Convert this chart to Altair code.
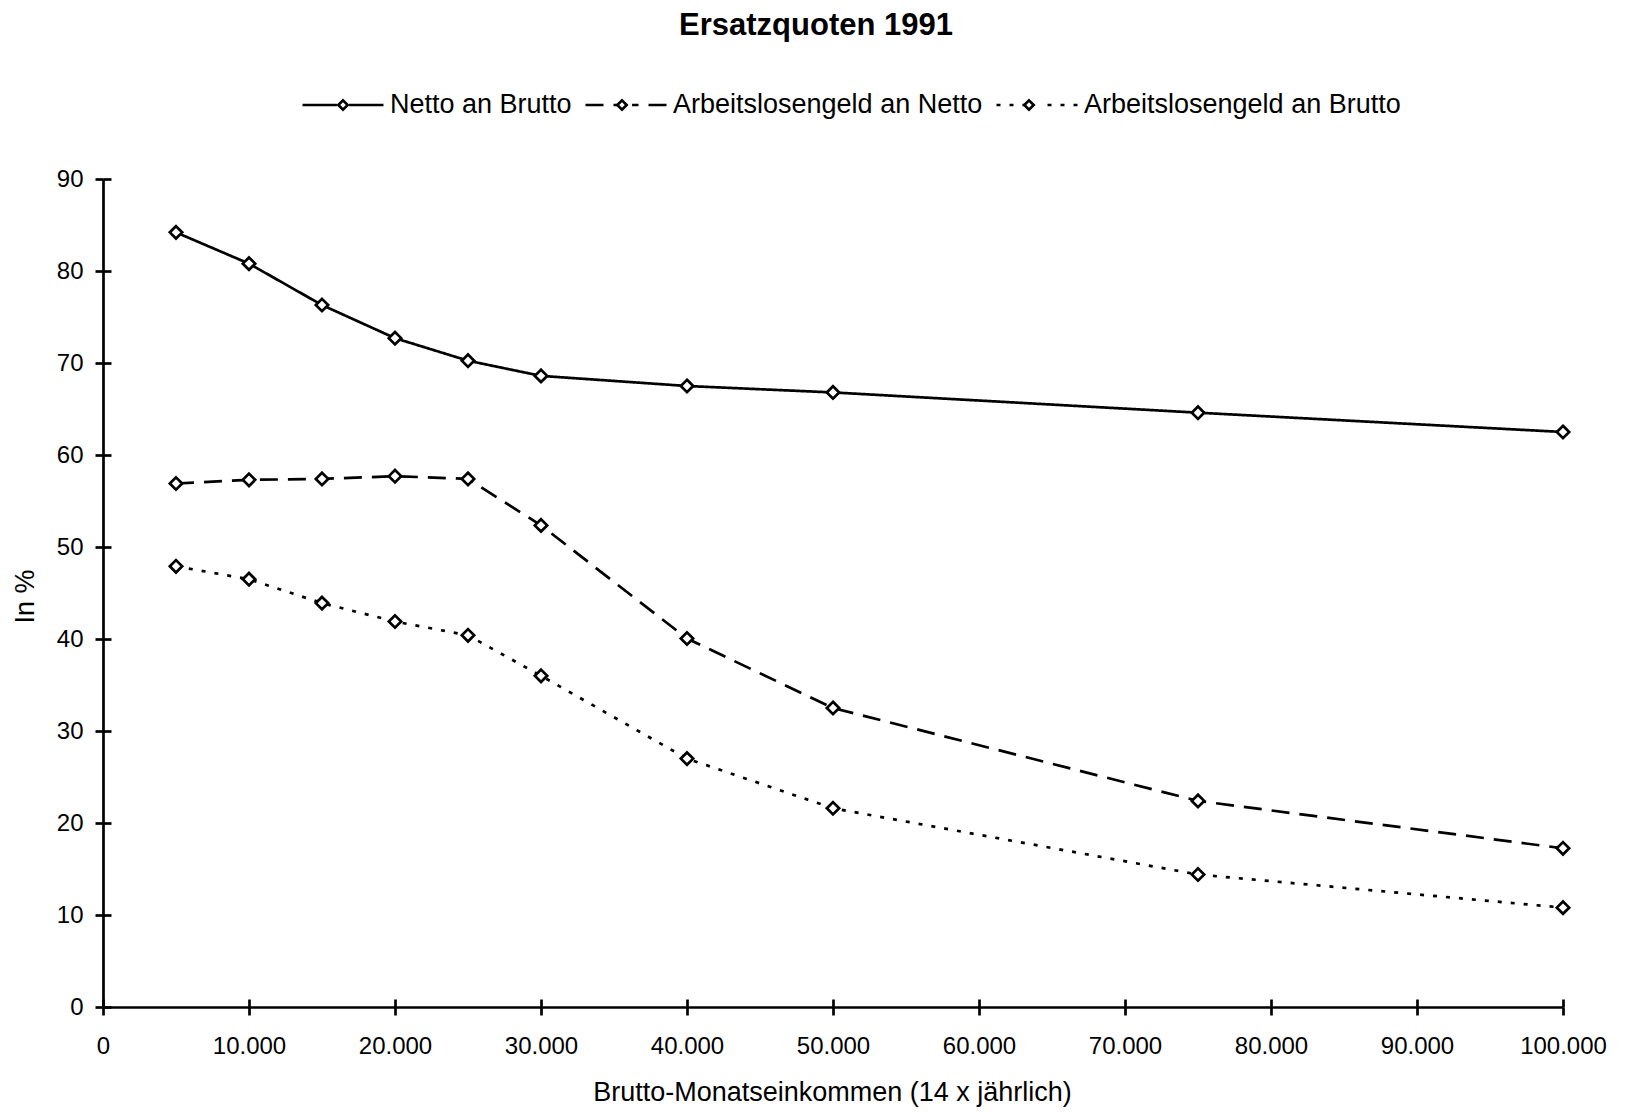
import altair as alt
import pandas as pd

# ---- data ----
x_values = [5000, 10000, 15000, 20000, 25000, 30000, 40000, 50000, 75000, 100000]
netto_an_brutto = [84.2, 80.8, 76.3, 72.7, 70.25, 68.6, 67.5, 66.8, 64.6, 62.5]
alg_an_netto = [56.9, 57.3, 57.4, 57.7, 57.4, 52.35, 40.05, 32.5, 22.4, 17.25]
alg_an_brutto = [47.9, 46.5, 43.9, 41.9, 40.4, 36.0, 27.0, 21.6, 14.4, 10.8]
series_names = ["Netto an Brutto", "Arbeitslosengeld an Netto", "Arbeitslosengeld an Brutto"]
x_ticks = [0, 10000, 20000, 30000, 40000, 50000, 60000, 70000, 80000, 90000, 100000]
y_ticks = [0, 10, 20, 30, 40, 50, 60, 70, 80, 90]

# second key (trailing space) keeps the marker legend separate from the line legend
marker_names = [n + " " for n in series_names]

rows = []
for name, mname, vals in zip(series_names, marker_names,
                             [netto_an_brutto, alg_an_netto, alg_an_brutto]):
    for xv, yv in zip(x_values, vals):
        rows.append({"x": xv, "y": yv, "series": name, "marker": mname})
df = pd.DataFrame(rows)

FONT = "Liberation Sans"
W, H = 1460, 828
LW = 2.7

xscale = alt.Scale(domain=[0, 100000], nice=False, zero=True)
yscale = alt.Scale(domain=[0, 90], nice=False, zero=True)

x_axis = alt.Axis(
    orient="bottom", values=x_ticks, grid=False,
    labelExpr="replace(format(datum.value, ','), ',', '.')",
    domainColor="black", domainWidth=LW,
    tickColor="black", tickWidth=LW, tickSize=8,
    labelFont=FONT, labelFontSize=24, labelColor="black", labelPadding=19,
    labelFlush=False, labelOverlap=False,
    title="Brutto-Monatseinkommen (14 x jährlich)",
    titleFont=FONT, titleFontSize=27, titleFontWeight="normal", titleColor="black",
    titleX=729, titleY=93, titleBaseline="alphabetic", titleAlign="center",
)
y_axis = alt.Axis(
    orient="left", values=y_ticks, grid=False,
    domainColor="black", domainWidth=LW,
    tickColor="black", tickWidth=LW, tickSize=8,
    labelFont=FONT, labelFontSize=24, labelColor="black", labelPadding=12,
    labelFlush=False, labelOverlap=False,
    title="In %",
    titleFont=FONT, titleFontSize=27, titleFontWeight="normal", titleColor="black",
    titleAngle=270, titleX=-70, titleY=417, titleBaseline="alphabetic", titleAlign="center",
)
# inner halves of the crossing ticks
x_axis_in = alt.Axis(orient="top", offset=-H, values=x_ticks, grid=False, labels=False,
                     domain=False, tickColor="black", tickWidth=LW, tickSize=8, title=None)
y_axis_in = alt.Axis(orient="right", offset=-W, values=y_ticks, grid=False, labels=False,
                     domain=False, tickColor="black", tickWidth=LW, tickSize=8, title=None)

LINE_PATH = "M-1,0L-0.15,0M1,0L0.15,0"
DIAMOND = "M0,-0.13L0.13,0L0,0.13L-0.13,0Z"
DIAMOND_LEG = "M0,-0.115L0.115,0L0,0.115L-0.115,0Z"

common_leg = dict(
    orient="none", legendX=198, legendY=-116, direction="horizontal", title=None,
    symbolSize=6561, symbolStrokeWidth=LW, symbolStrokeColor="black",
    labelFont=FONT, labelFontSize=27, labelColor="black", labelOffset=5,
    columnPadding=8, labelLimit=500,
)
leg_dash = alt.Legend(symbolType=LINE_PATH, symbolFillColor="transparent", **common_leg)
leg_marker = alt.Legend(symbolType=DIAMOND_LEG, symbolOpacity=1, labelOpacity=0,
                        labelExpr="trim(datum.label)", **common_leg)

base = alt.Chart(df)

lines = base.mark_line(color="black", strokeWidth=LW).encode(
    x=alt.X("x:Q", scale=xscale, axis=x_axis),
    y=alt.Y("y:Q", scale=yscale, axis=y_axis),
    strokeDash=alt.StrokeDash(
        "series:N",
        scale=alt.Scale(domain=series_names, range=[[1, 0], [18, 10], [4, 9]]),
        legend=leg_dash,
    ),
)

points = base.mark_point(filled=True, shape=DIAMOND, stroke="black", strokeWidth=LW,
                         size=9025, opacity=1).encode(
    x=alt.X("x:Q", scale=xscale, axis=None),
    y=alt.Y("y:Q", scale=yscale, axis=None),
    fill=alt.Fill(
        "marker:N",
        scale=alt.Scale(domain=marker_names, range=["white", "white", "white"]),
        legend=leg_marker,
    ),
)

tick_axes = base.mark_point(opacity=0).encode(
    x=alt.X("x:Q", scale=xscale, axis=x_axis_in),
    y=alt.Y("y:Q", scale=yscale, axis=y_axis_in),
)

chart = alt.layer(lines, points, tick_axes).resolve_scale(
    x="independent", y="independent"
).properties(
    width=W, height=H,
    padding={"left": 103, "top": 179, "right": 62, "bottom": 105},
    autosize=alt.AutoSizeParams(type="none"),
    background="white",
    title=alt.TitleParams(
        "Ersatzquoten 1991", font=FONT, fontSize=31, fontWeight="bold", color="black",
        anchor="middle", frame="group", orient="bottom", offset=0, dx=-17, dy=-1070,
        baseline="alphabetic",
    ),
).configure_view(strokeWidth=0)

chart.save("out.html", embed_options={"renderer": "svg", "actions": False})
